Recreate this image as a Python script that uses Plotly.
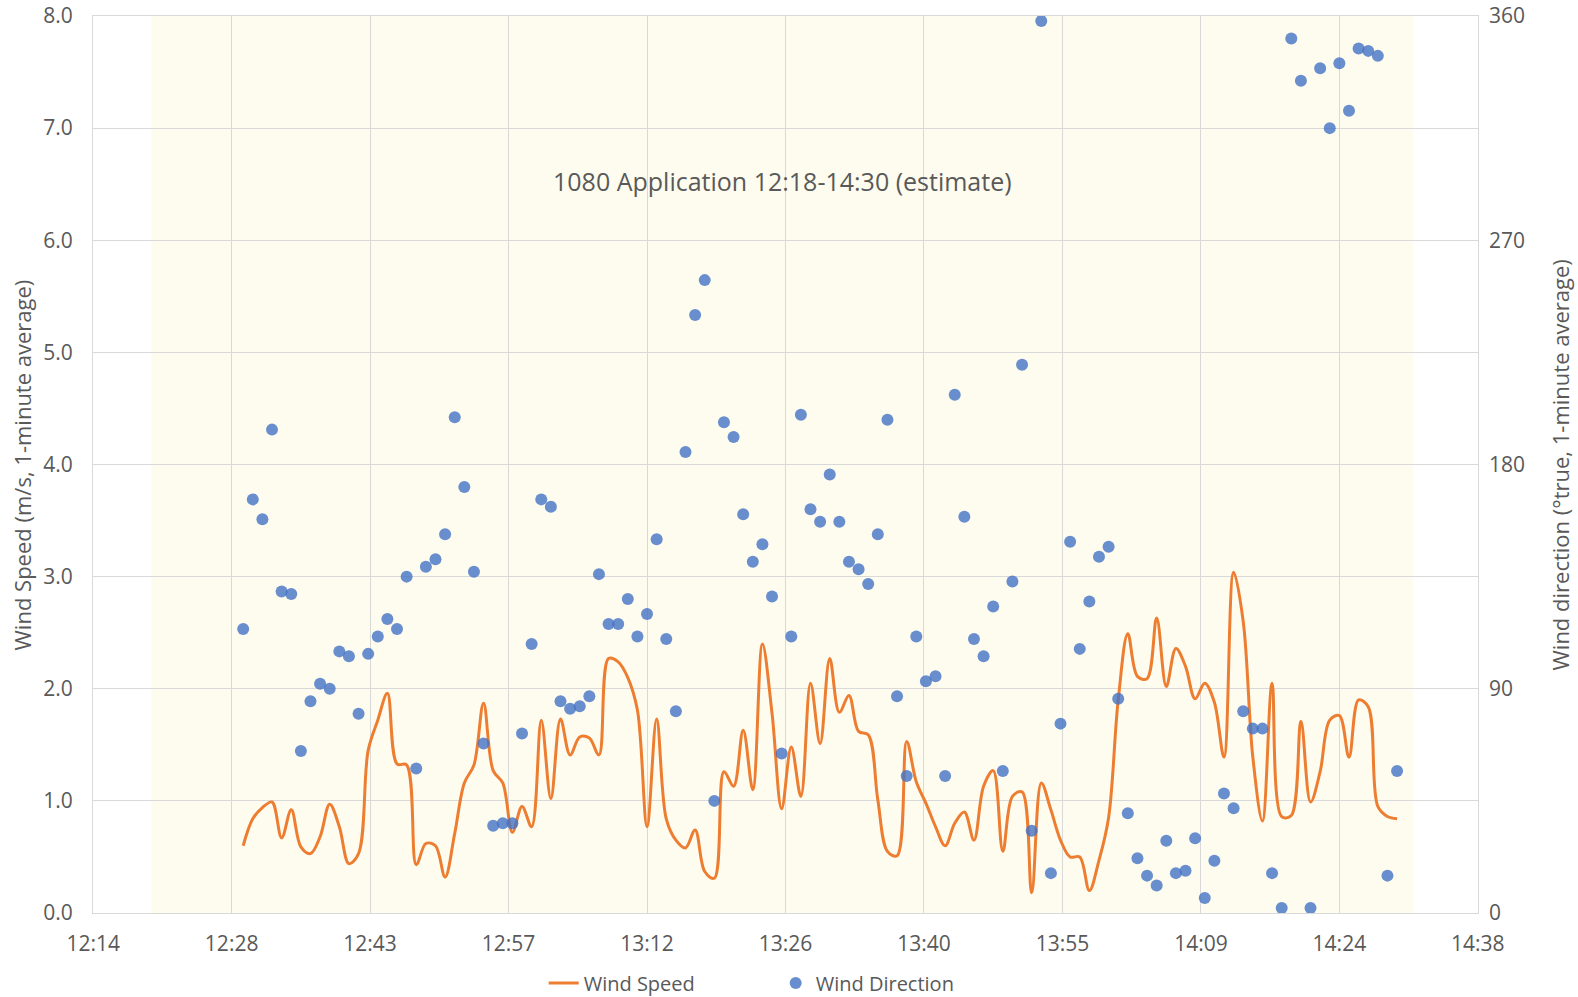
import pandas as pd
import plotly.graph_objects as go

# one-minute averages, 12:30 to 14:30
start_time = "2021-01-01 12:30:00"

wind_speed = [
    0.60, 0.84, 0.94, 0.99, 0.67, 0.92, 0.59, 0.53, 0.68, 0.97,
    0.77, 0.44, 0.53, 1.45, 1.72, 1.96, 1.33, 1.32, 0.43, 0.62,
    0.60, 0.32, 0.71, 1.16, 1.32, 1.87, 1.27, 1.16, 0.72, 0.95,
    0.77, 1.72, 1.02, 1.73, 1.41, 1.57, 1.56, 1.41, 2.27, 2.24,
    2.10, 1.81, 0.77, 1.73, 0.84, 0.65, 0.58, 0.74, 0.37, 0.31,
    1.26, 1.13, 1.63, 1.10, 2.40, 1.78, 0.93, 1.48, 1.04, 2.05,
    1.51, 2.27, 1.79, 1.94, 1.62, 1.59, 1.01, 0.55, 0.51, 1.53,
    1.17, 0.98, 0.77, 0.60, 0.80, 0.90, 0.65, 1.13, 1.27, 0.55,
    1.04, 1.08, 0.18, 1.16, 0.92, 0.65, 0.50, 0.50, 0.20, 0.47,
    0.85, 1.90, 2.49, 2.11, 2.09, 2.63, 2.02, 2.36, 2.20, 1.91,
    2.05, 1.88, 1.39, 3.04, 2.60, 1.39, 0.82, 2.05, 0.86, 0.87,
    1.71, 0.99, 1.26, 1.72, 1.76, 1.39, 1.90, 1.84, 0.95, 0.86,
    0.84,
]

wind_direction = [
    114, 166, 158, 194, 129, 128, 65, 85, 92, 90,
    105, 103, 80, 104, 111, 118, 114, 135, 58, 139,
    142, 152, 199, 171, 137, 68, 35, 36, 36, 72,
    108, 166, 163, 85, 82, 83, 87, 136, 116, 116,
    126, 111, 120, 150, 110, 81, 185, 240, 254, 45,
    197, 191, 160, 141, 148, 127, 64, 111, 200, 162,
    157, 176, 157, 141, 138, 132, 152, 198, 87, 55,
    111, 93, 95, 55, 208, 159, 110, 103, 123, 57,
    133, 220, 33, 358, 16, 76, 149, 106, 125, 143,
    147, 86, 40, 22, 15, 11, 29, 16, 17, 30,
    6, 21, 48, 42, 81, 74, 74, 16, 2, 351,
    334, 2, 339, 315, 341, 322, 347, 346, 344, 15,
    57,
]

# shaded application window as drawn, and the axis span
application_window = ["2021-01-01 12:20:27", "2021-01-01 14:31:42"]
x_range = ["2021-01-01 12:14:23", "2021-01-01 14:38:25"]
first_tick = "2021-01-01 12:14:24"
label = "1080 Application 12:18-14:30 (estimate)"
left_title = "Wind Speed (m/s, 1-minute average)"
right_title = "Wind direction (°true, 1-minute average)"

times = pd.date_range(start_time, periods=len(wind_speed), freq="1min")

grey = "#595959"
grid = "#D9D9D9"
font = "Open Sans"

fig = go.Figure()
fig.add_trace(go.Scatter(
    x=times, y=wind_speed, name="Wind Speed", mode="lines",
    line=dict(color="#ED7D31", width=3, shape="spline", smoothing=1.0),
))
fig.add_trace(go.Scatter(
    x=times, y=wind_direction, name="Wind Direction", mode="markers",
    marker=dict(color="#4472C4", size=12, opacity=0.8), yaxis="y2",
))

mid = pd.Timestamp(application_window[0]) + (
    pd.Timestamp(application_window[1]) - pd.Timestamp(application_window[0])) / 2

fig.add_shape(type="rect", xref="x", yref="paper",
              x0=application_window[0], x1=application_window[1], y0=0, y1=1,
              fillcolor="#FEFCEF", line_width=0, layer="below")
fig.add_annotation(x=mid, y=6.526, xref="x", yref="y", text=label, showarrow=False,
                   font=dict(family=font, size=25, color=grey))

# axis titles as rotated annotations so they sit where the reference has them
fig.add_annotation(x=-0.0513, y=0.5, xref="paper", yref="paper", text=left_title,
                   textangle=-90, showarrow=False, xanchor="center", yanchor="middle",
                   font=dict(family=font, size=22, color=grey))
fig.add_annotation(x=1.0592, y=0.5, xref="paper", yref="paper", text=right_title,
                   textangle=-90, showarrow=False, xanchor="center", yanchor="middle",
                   font=dict(family=font, size=22, color=grey))

fig.update_layout(
    width=1578, height=997, autosize=False,
    margin=dict(l=93, r=100, t=16, b=84),
    paper_bgcolor="white", plot_bgcolor="white",
    font=dict(family=font, color=grey, size=20),
    showlegend=True,
    legend=dict(orientation="h", x=0.3254, xanchor="left",
                yref="container", y=0.014, yanchor="middle",
                entrywidth=187, font=dict(size=20, color=grey),
                bgcolor="rgba(0,0,0,0)"),
    xaxis=dict(
        type="date", range=x_range, tick0=first_tick, dtick=864000,
        tickformat="%H:%M", showgrid=True, gridcolor=grid, gridwidth=1,
        showline=True, mirror=True, linecolor=grid, zeroline=False, ticks="",
        ticklabelstandoff=12, ticklabeloverflow="allow", automargin=False,
        tickfont=dict(size=21, color=grey),
    ),
    yaxis=dict(
        range=[0, 8], dtick=1, tickformat=".1f", showgrid=True, gridcolor=grid,
        showline=True, mirror=True, linecolor=grid, automargin=False,
        zeroline=False, ticks="", ticklabelstandoff=15, ticklabeloverflow="allow",
        tickfont=dict(size=21, color=grey),
    ),
    yaxis2=dict(
        range=[0, 360], dtick=90, overlaying="y", side="right", showgrid=False,
        zeroline=False, ticks="", ticklabelstandoff=10, ticklabeloverflow="allow",
        automargin=False, tickfont=dict(size=21, color=grey),
    ),
)

# the page's default 8px body margin would push the 1578x997 figure off screen
fig.write_html("out.html", config={"displayModeBar": False},
               post_script="document.body.style.margin = '0';")
